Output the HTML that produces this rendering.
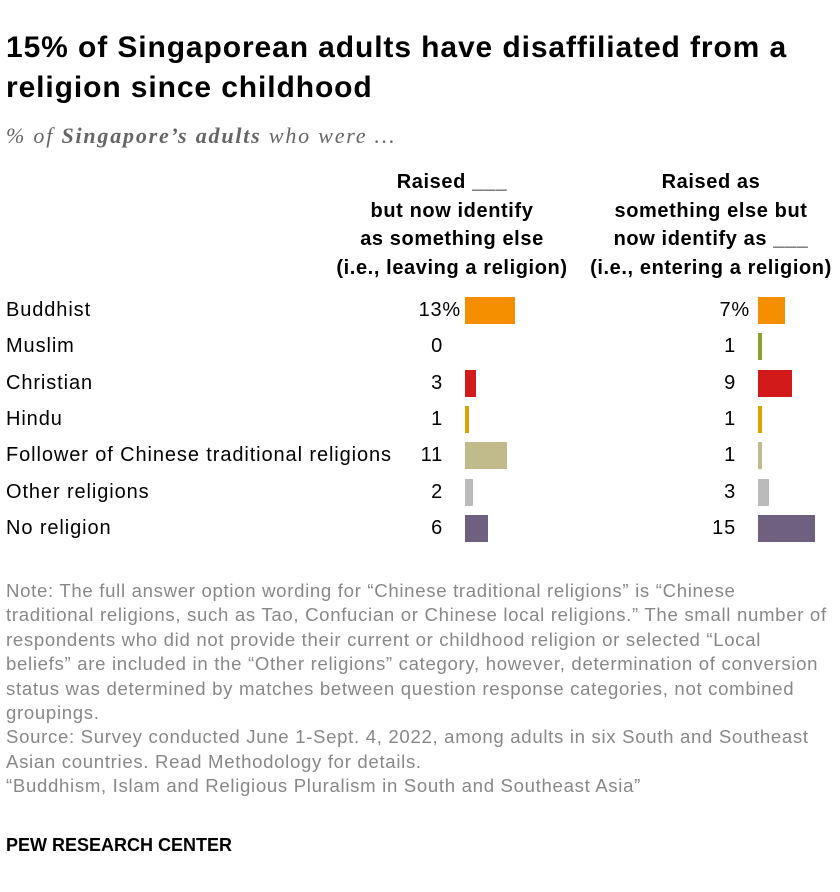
<!DOCTYPE html>
<html><head><meta charset="utf-8">
<style>
body{margin:0;background:#fff;width:840px;height:892px;overflow:hidden;font-family:"Liberation Sans",sans-serif;color:#000;position:relative}
.a{position:absolute}
h1{position:absolute;left:6px;top:28px;margin:0;font-size:30px;letter-spacing:0.9px;line-height:40px;font-weight:bold;width:830px}
.sub{left:6px;top:123px;font-family:"Liberation Serif",serif;font-style:italic;font-size:22px;letter-spacing:1.8px;color:#666}
.hd{font-weight:bold;font-size:20px;letter-spacing:0.6px;line-height:28.5px;text-align:center;white-space:nowrap}
.lab{font-size:20px;letter-spacing:0.9px;left:6px}
.num{font-size:20px;letter-spacing:0.8px;text-align:right;width:60px}
.note{left:6px;top:579px;width:834px;font-size:18.6px;letter-spacing:0.68px;line-height:24.4px;color:#888;white-space:nowrap}
</style></head><body>
<h1>15% of Singaporean adults have disaffiliated from a religion since childhood</h1>
<div class="a sub">% of <b>Singapore’s adults</b> who were …</div>
<div class="a hd" style="left:322px;top:168px;width:260px">Raised ___<br>but now identify<br>as something else<br>(i.e., leaving a religion)</div>
<div class="a hd" style="left:581px;top:168px;width:260px">Raised as<br>something else but<br>now identify as ___<br>(i.e., entering a religion)</div>
<div id="chart"></div>
<div class="a note">Note: The full answer option wording for “Chinese traditional religions” is “Chinese<br>traditional religions, such as Tao, Confucian or Chinese local religions.” The small number of<br>respondents who did not provide their current or childhood religion or selected “Local<br>beliefs” are included in the “Other religions” category, however, determination of conversion<br>status was determined by matches between question response categories, not combined<br>groupings.<br>Source: Survey conducted June 1-Sept. 4, 2022, among adults in six South and Southeast<br>Asian countries. Read Methodology for details.<br>“Buddhism, Islam and Religious Pluralism in South and Southeast Asia”</div>
<div class="a" style="left:6px;top:835px;font-size:18px;font-weight:bold">PEW RESEARCH CENTER</div>
<script>
const categories=["Buddhist","Muslim","Christian","Hindu","Follower of Chinese traditional religions","Other religions","No religion"];
const leaving=[13,0,3,1,11,2,6];
const entering=[7,1,9,1,1,3,15];
const colors=["#f58f00","#8aa12b","#d21a1a","#dba300","#c1bb8b","#bbbbbb","#70607f"];
const scale=3.83,rowY=v=>297+v*36.3,barH=27;
const c=document.getElementById('chart');
function mk(cls,style,txt){const d=document.createElement('div');d.className='a '+cls;d.style.cssText=style;if(txt!==undefined)d.textContent=txt;c.appendChild(d);return d;}
categories.forEach((cat,i)=>{
 const y=rowY(i);
 const l=mk('lab','top:'+(y+2)+'px',cat);
 
 
 [[leaving,465],[entering,758]].forEach(([arr,x0],j)=>{
  const right=(i==0)?(j==0?4:8):22;
  const n=mk('num','left:'+(x0-right-80)+'px;width:80px;top:'+(y+2)+'px',arr[i]+(i==0?'%':''));
  
  
  if(arr[i]>0){
   const b=mk('','left:'+x0+'px;top:'+y+'px;height:'+barH+'px;width:'+(arr[i]*scale)+'px;background:'+colors[i]);
   
   
  }
 });
});
</script>
</body></html>
